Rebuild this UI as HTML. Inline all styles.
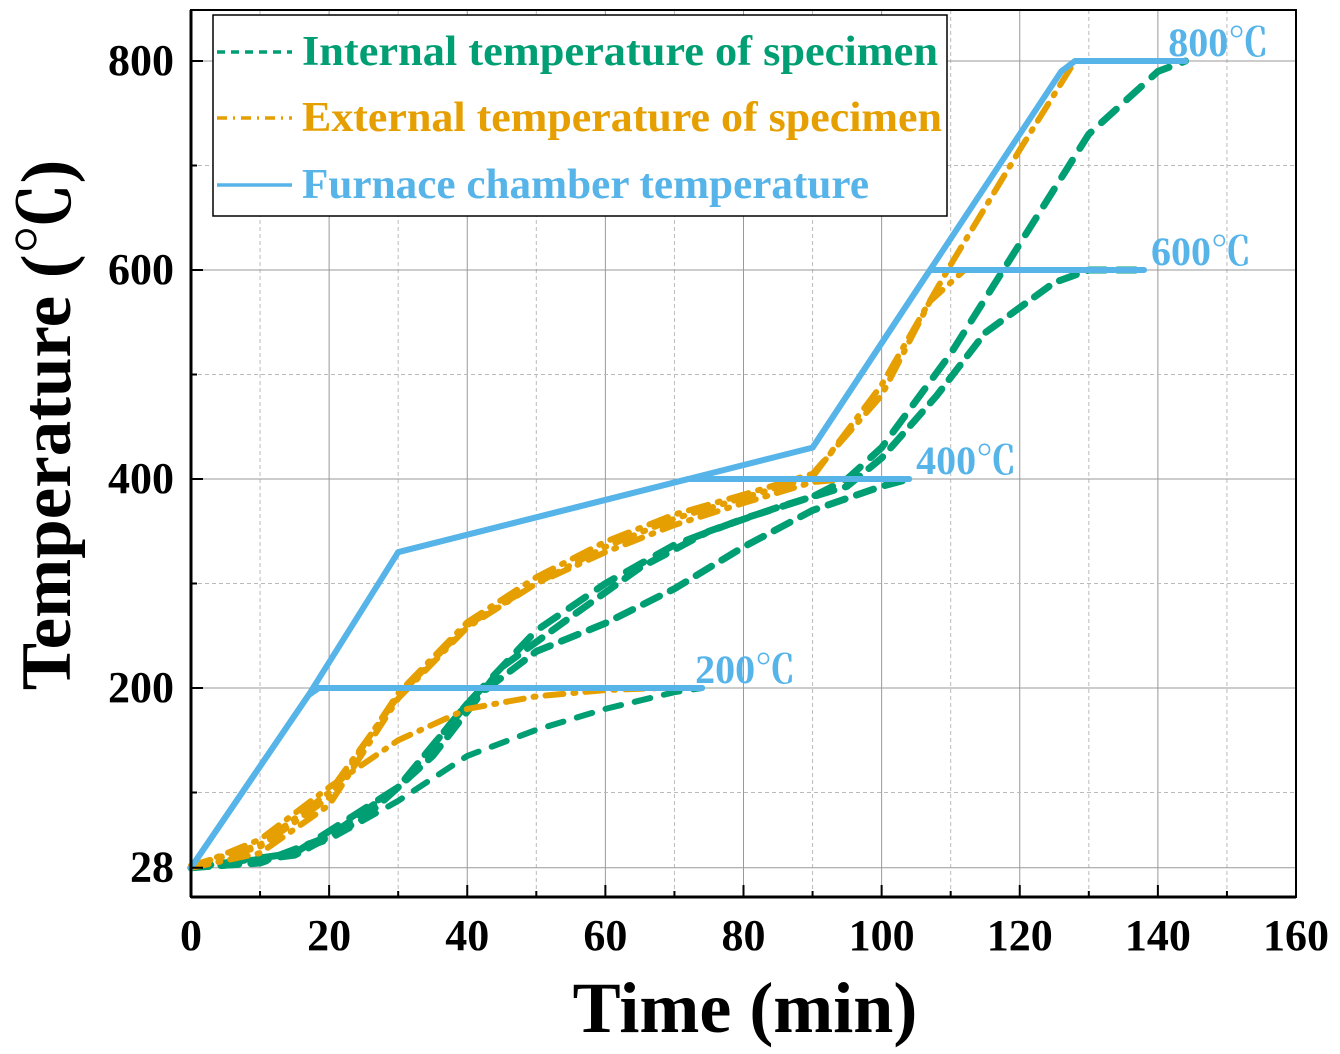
<!DOCTYPE html>
<html><head><meta charset="utf-8"><style>
body{margin:0;background:#fff}
svg text{font-family:"Liberation Serif","Noto Serif CJK SC",serif;font-weight:bold}
</style></head><body>
<svg id="c" width="1340" height="1049" xmlns="http://www.w3.org/2000/svg"></svg>
<script>
const xTicks=[0,20,40,60,80,100,120,140,160];
const yTicks=[28,200,400,600,800];
const furnace200=[[0,28],[17,193],[18.5,200],[74,200]];
const furnace400=[[0,28],[17,193],[30,330],[72,400],[104,400]];
const furnace600=[[30,330],[72,400],[90,430],[107,600],[138,600]];
const furnace800=[[90,430],[107,600],[126,790],[128,800],[144,800]];
const internal200=[[0,28],[10,32],[20,55],[30,92],[40,135],[50,160],[60,180],[70,196],[74,200]];
const internal400=[[0,28],[10,33],[20,58],[30,105],[35,145],[40,185],[50,235],[60,262],[70,295],[80,335],[90,370],[100,393],[104,400]];
const internal600=[[0,28],[15,40],[25,75],[35,135],[45,220],[55,268],[65,315],[75,350],[85,373],[95,393],[100,420],[108,480],[115,540],[125,588],[130,600],[138,600]];
const internal800=[[0,28],[15,42],[30,105],[40,185],[50,255],[60,300],[70,337],[80,362],[90,383],[95,400],[100,430],[110,520],[120,625],[130,730],[140,790],[144,800]];
const external200=[[0,28],[10,55],[20,105],[30,150],[40,180],[50,192],[60,198],[68,200]];
const external400=[[0,28],[10,42],[20,88],[30,190],[40,258],[50,300],[60,330],[70,356],[80,377],[90,397],[95,400]];
const external600=[[0,30],[10,48],[20,95],[30,195],[40,263],[50,306],[60,340],[70,366],[80,385],[90,405],[100,480],[107,570],[112,600]];
const external800=[[0,30],[10,50],[20,100],[30,192],[40,260],[50,300],[60,335],[70,362],[80,382],[90,402],[100,490],[110,605],[120,715],[128,800]];
const levelLabels=[[73,200,"200℃"],[105,400,"400℃"],[139,600,"600℃"],[141.5,800,"800℃"]];

const NS="http://www.w3.org/2000/svg",svg=document.getElementById('c');
const X0=191,X1=1296,Y0=897,YT=10;
const sx=v=>X0+(v/160)*(X1-X0);
const sy=v=>Y0-v*1.045;
function el(t,a,p){const e=document.createElementNS(NS,t);for(const k in a)e.setAttribute(k,a[k]);(p||svg).appendChild(e);return e;}
for(let v=10;v<160;v+=10){const g=el('line',{x1:sx(v),x2:sx(v),y1:YT,y2:Y0,stroke:v%20?'#bbb':'#999','stroke-width':1,'stroke-dasharray':v%20?'4,3':''});
}
for(let v=100;v<=800;v+=100){const g=el('line',{x1:X0,x2:X1,y1:sy(v),y2:sy(v),stroke:v%200?'#bbb':'#999','stroke-width':1,'stroke-dasharray':v%200?'4,3':''});
}
{const g=el('line',{x1:X0,x2:X1,y1:sy(28),y2:sy(28),stroke:'#999','stroke-width':1});}
function line(pts,color,w,dash,name){const p=el('polyline',{points:pts.map(d=>sx(d[0])+','+sy(d[1])).join(' '),fill:'none',stroke:color,'stroke-width':w,'stroke-dasharray':dash,'stroke-linecap':'round','stroke-linejoin':'round'});
}
const G='#009e73',O='#e69f00',B='#56b4e9';
line(internal200,G,6,'16,14','internal-200');
line(internal400,G,7,'18,12','internal-400');
line(internal600,G,7,'18,12','internal-600');
line(internal800,G,7,'20,14','internal-800');
line(external200,O,6,'18,10,2,10','external-200');
line(external400,O,6,'18,10,2,10','external-400');
line(external600,O,6,'20,10,2,10','external-600');
line(external800,O,6,'20,10,2,10','external-800');
line(furnace200,B,6,'','furnace-200');
line(furnace400,B,6,'','furnace-400');
line(furnace600,B,6,'','furnace-600');
line(furnace800,B,6,'','furnace-800');
for(const l of levelLabels){const t=el('text',{x:sx(l[0]),y:sy(l[1])-5,fill:B,'font-size':40});t.textContent=l[2];
}
{const r=el('rect',{x:X0,y:YT,width:X1-X0,height:Y0-YT,fill:'none',stroke:'#000','stroke-width':2});}
el('line',{x1:X0,x2:X0,y1:YT,y2:Y0,stroke:'#000','stroke-width':3});
el('line',{x1:X0,x2:X1,y1:Y0,y2:Y0,stroke:'#000','stroke-width':3});
for(let v=0;v<=160;v+=10){el('line',{x1:sx(v),x2:sx(v),y1:Y0,y2:Y0-(v%20?6:12),stroke:'#000','stroke-width':2});}
for(const v of xTicks){const t=el('text',{x:sx(v),y:Y0+53,'text-anchor':'middle','font-size':44});t.textContent=v;
}
for(let v=100;v<=800;v+=100){el('line',{x1:X0,x2:X0+(v%200?6:12),y1:sy(v),y2:sy(v),stroke:'#000','stroke-width':2});}
el('line',{x1:X0,x2:X0+12,y1:sy(28),y2:sy(28),stroke:'#000','stroke-width':2});
for(const v of yTicks){const t=el('text',{x:X0-17,y:sy(v)+14,'text-anchor':'end','font-size':44});t.textContent=v;
}
{const t=el('text',{x:745,y:1032,'text-anchor':'middle','font-size':72});t.textContent='Time (min)';}
{const t=el('text',{x:0,y:0,'text-anchor':'middle','font-size':71,transform:'translate(70,425) rotate(-90)'});t.textContent='Temperature (℃)';}
const lg=el('g',{});
el('rect',{x:213,y:15,width:734,height:201,fill:'#fff',stroke:'#000','stroke-width':1.5},lg);
const items=[[G,'8,6','Internal temperature of specimen',52,636],[O,'10,6,2,6','External temperature of specimen',118,640],[B,'','Furnace chamber temperature',185,567]];
for(const it of items){el('line',{x1:217,x2:292,y1:it[3],y2:it[3],stroke:it[0],'stroke-width':3.5,'stroke-dasharray':it[1]},lg);
const t=el('text',{x:302,y:it[3]+13,fill:it[0],'font-size':42,textLength:it[4],lengthAdjust:'spacingAndGlyphs'},lg);t.textContent=it[2];
}
</script>
</body></html>
